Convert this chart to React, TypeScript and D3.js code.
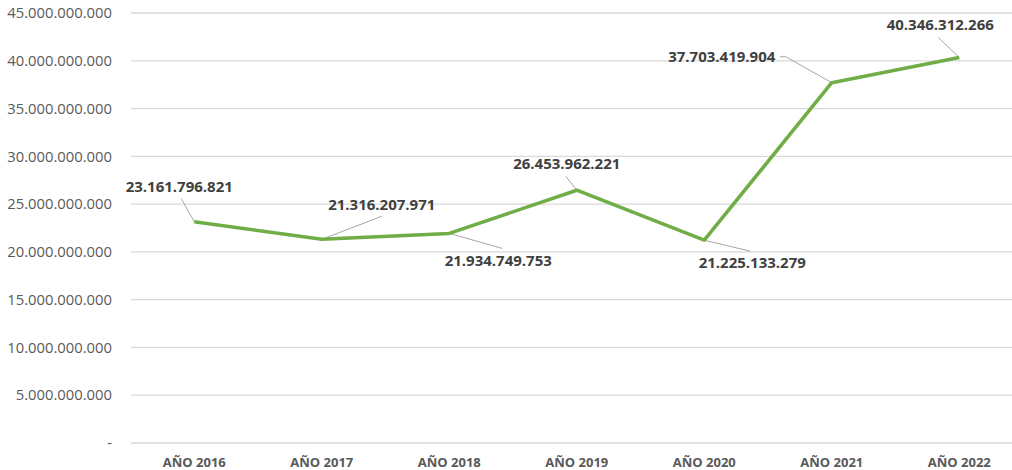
import React, { useEffect, useRef } from "react";
import * as d3 from "d3";

const years = ["AÑO 2016", "AÑO 2017", "AÑO 2018", "AÑO 2019", "AÑO 2020", "AÑO 2021", "AÑO 2022"];
const values = [23161796821, 21316207971, 21934749753, 26453962221, 21225133279, 37703419904, 40346312266];
const yTicks = [0, 5e9, 10e9, 15e9, 20e9, 25e9, 30e9, 35e9, 40e9, 45e9];

// label placement relative to each point: text anchor (dx, dy) and leader line start points
const labelOffsets = [
  { dx: -15, dy: -30, leader: [[-13, -23]] },
  { dx: 60, dy: -29, leader: [[60, -23]] },
  { dx: 49, dy: 33, leader: [[53, 15]] },
  { dx: -10, dy: -21, leader: [[-11, -14]] },
  { dx: 48, dy: 28, leader: [[46, 11]] },
  { dx: -110, dy: -21, leader: [[-52, -26], [-46, -26]] },
  { dx: -19, dy: -27, leader: [[-21, -20]] },
];

const fmt = (v: number) => {
  if (v === 0) return "-";
  return d3.format(",.0f")(v).replace(/,/g, ".");
};

function App() {
  const ref = useRef<HTMLDivElement | null>(null);

  useEffect(() => {
    const width = 1012;
    const height = 470;
    const svg = d3
      .select(ref.current)
      .append("svg")
      .attr("width", width)
      .attr("height", height)
      .style("position", "absolute")
      .style("left", 0)
      .style("top", 0)
      .style("font-family", "'Open Sans', sans-serif");

    const x = d3.scaleBand().domain(years).range([130.5, 130.5 + 7 * 127.5]);
    const y = d3.scaleLinear().domain([0, 45e9]).range([443, 13]);
    const cx = (d: string) => (x(d) as number) + x.bandwidth() / 2;

    // gridlines
    yTicks.forEach((t) => {
      svg
        .append("line")
        .attr("x1", 131)
        .attr("x2", width)
        .attr("y1", y(t))
        .attr("y2", y(t))
        .attr("stroke", "#d9d9d9")
        .attr("stroke-width", 1.3);

      svg
        .append("text")
        .attr("x", 112)
        .attr("y", y(t))
        .attr("dy", "0.35em")
        .attr("text-anchor", "end")
        .attr("fill", "#595959")
        .attr("font-size", 14.8)
        .text(fmt(t));
    });

    // x labels
    years.forEach((yr) => {
      svg
        .append("text")
        .attr("x", cx(yr))
        .attr("y", 467)
        .attr("text-anchor", "middle")
        .attr("fill", "#595959")
        .attr("font-size", 13)
        .attr("font-weight", "bold")
        .text(yr);
    });

    // leader lines
    values.forEach((v, i) => {
      const px = cx(years[i]);
      const py = y(v);
      const pts: [number, number][] = labelOffsets[i].leader.map(
        (p) => [px + p[0], py + p[1]] as [number, number]
      );
      pts.push([px, py]);
      svg
        .append("path")
        .attr("d", d3.line()(pts))
        .attr("fill", "none")
        .attr("stroke", "#a6a6a6")
        .attr("stroke-width", 1);
    });

    // the line
    const line = d3
      .line<number>()
      .x((d, i) => cx(years[i]))
      .y((d) => y(d));

    svg
      .append("path")
      .datum(values)
      .attr("d", line)
      .attr("fill", "none")
      .attr("stroke", "#70ad47")
      .attr("stroke-width", 3.5)
      .attr("stroke-linejoin", "round");

    // data labels
    values.forEach((v, i) => {
      svg
        .append("text")
        .attr("x", cx(years[i]) + labelOffsets[i].dx)
        .attr("y", y(v) + labelOffsets[i].dy)
        .attr("text-anchor", "middle")
        .attr("fill", "#404040")
        .attr("font-size", 15)
        .attr("font-weight", "bold")
        .text(fmt(v));
    });

    return () => {
      svg.remove();
    };
  }, []);

  return <div ref={ref} />;
}

export default App;
